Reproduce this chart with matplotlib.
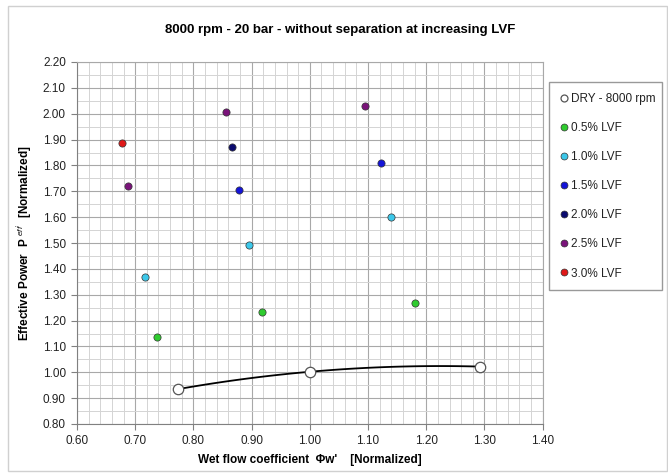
import numpy as np
import matplotlib
matplotlib.use("Agg")
import matplotlib.pyplot as plt
from matplotlib.patches import Rectangle
from matplotlib.ticker import MultipleLocator, FormatStrFormatter

plt.rcParams['font.family'] = ['Liberation Sans', 'DejaVu Sans']
plt.rcParams['mathtext.fontset'] = 'custom'
plt.rcParams['mathtext.rm'] = 'Liberation Sans'
plt.rcParams['mathtext.it'] = 'Liberation Sans:italic'

# dry reference run
dry_x = [0.774, 1.000, 1.293]
dry_y = [0.935, 1.002, 1.022]

# wet runs, one list per liquid volume fraction
lvf_labels = ['0.5% LVF', '1.0% LVF', '1.5% LVF', '2.0% LVF', '2.5% LVF', '3.0% LVF']
lvf_colors = ['#2fcc2f', '#3cc8ea', '#1414d8', '#0a0a6e', '#7a137a', '#e01818']
lvf_x = [
    [0.737, 0.918, 1.181],
    [0.717, 0.896, 1.140],
    [0.879, 1.122],
    [0.866],
    [0.688, 0.856, 1.095],
    [0.677],
]
lvf_y = [
    [1.136, 1.234, 1.267],
    [1.367, 1.493, 1.602],
    [1.706, 1.808],
    [1.870],
    [1.721, 2.008, 2.031],
    [1.885],
]

W, H = 668, 475
fig = plt.figure(figsize=(W / 100, H / 100), dpi=100)
fig.patches.append(Rectangle((8 / W, 1 - 471 / H), 659 / W, 465 / H,
                             transform=fig.transFigure, fill=False,
                             edgecolor='#d0d0d0', linewidth=1))

ax = fig.add_axes([77 / W, 1 - 424 / H, (542.7 - 77) / W, (424 - 62) / H])
ax.set_xlim(0.60, 1.40)
ax.set_ylim(0.80, 2.20)
ax.xaxis.set_major_locator(MultipleLocator(0.1))
ax.xaxis.set_minor_locator(MultipleLocator(0.02))
ax.yaxis.set_major_locator(MultipleLocator(0.1))
ax.yaxis.set_minor_locator(MultipleLocator(0.05))
ax.xaxis.set_major_formatter(FormatStrFormatter('%.2f'))
ax.yaxis.set_major_formatter(FormatStrFormatter('%.2f'))
ax.grid(which='major', color='#a8a8a8', linewidth=0.8)
ax.grid(which='minor', color='#d4d4d4', linewidth=0.7)
ax.set_axisbelow(True)
ax.tick_params(which='major', direction='out', length=4, color='#808080',
               labelsize=8.5, labelcolor='#222222', pad=4)
ax.tick_params(which='minor', length=0)
for side in ['top', 'right']:
    ax.spines[side].set_color('#a8a8a8')
    ax.spines[side].set_linewidth(0.8)
for side in ['left', 'bottom']:
    ax.spines[side].set_color('#808080')

# quadratic trend through the dry points
coef = np.polyfit(dry_x, dry_y, 2)
xs = np.linspace(min(dry_x), max(dry_x), 100)
ax.plot(xs, np.polyval(coef, xs), color='black', linewidth=1.3, zorder=3)
ax.plot(dry_x, dry_y, 'o', markersize=7.5, markerfacecolor='white',
        markeredgecolor='#555555', markeredgewidth=0.9, label='DRY - 8000 rpm',
        zorder=4)

for xv, yv, c, lab in zip(lvf_x, lvf_y, lvf_colors, lvf_labels):
    ax.plot(xv, yv, 'o', linestyle='none', markersize=5.2, markerfacecolor=c,
            markeredgecolor='#333333', markeredgewidth=0.5, label=lab, zorder=4)

ax.set_xlabel("Wet flow coefficient  \u03a6w'    [Normalized]", fontsize=8.5,
              fontweight='bold', labelpad=5)
ax.set_ylabel(r"Effective Power  P $^{\it{eff'}}$  [Normalized]", fontsize=8.5,
              fontweight='bold', labelpad=6)
fig.text(340 / W, 1 - 30 / H, '8000 rpm - 20 bar - without separation at increasing LVF',
         ha='center', va='center', fontsize=9.5, fontweight='bold')

leg = ax.legend(loc='upper left',
                bbox_to_anchor=(549 / W, 1 - 87 / H, 113 / W, 0.01),
                bbox_transform=fig.transFigure, mode='expand', fontsize=8.5,
                frameon=True, fancybox=False, edgecolor='#808080',
                labelspacing=1.45, handletextpad=0.2, handlelength=0.8,
                borderpad=0.9, borderaxespad=0)
leg.get_frame().set_linewidth(1.0)
for h in leg.legend_handles:
    h.set_markersize(5)
for t in leg.get_texts():
    t.set_color('#222222')

fig.savefig('out.png', dpi=100)
